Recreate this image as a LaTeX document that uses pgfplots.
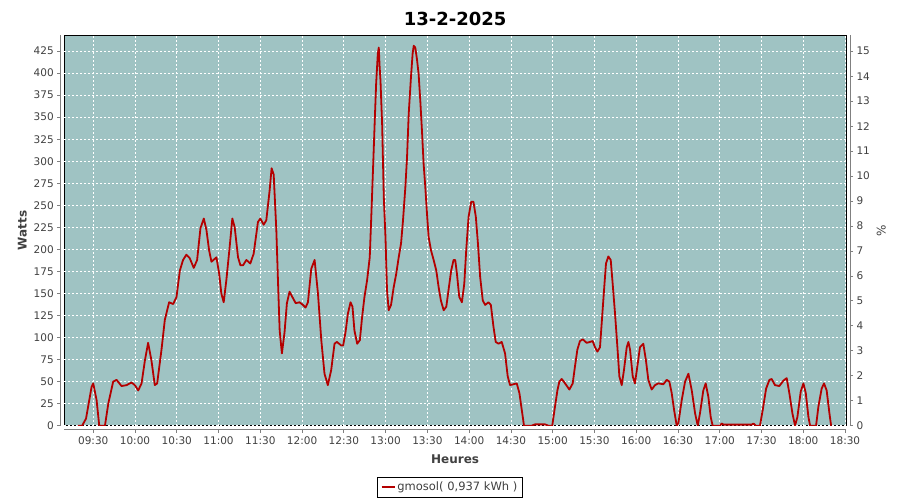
\documentclass[border=0pt]{standalone}
\usepackage{fontspec}
\setmainfont{DejaVu Sans}
\usepackage{pgfplots}
\pgfplotsset{compat=1.18}
\definecolor{bg}{HTML}{9FC3C3}
\definecolor{ser}{HTML}{B40000}
\definecolor{lab}{HTML}{404040}

\pgfplotstableread{
t w
559 0
562 0
564.8 8
568.8 44
570 48
572.4 29
574.3 0
578.4 0
580.8 25
584.3 50
586.7 52
590.3 45
593.9 46
597.5 49
599.9 46
602.3 40
604.7 48
607.1 74
609.4 94
611.8 74
614.2 46
615.9 48
619.0 86
621.4 120
624.5 140
627.4 138
629.8 146
632.2 176
634.5 188
636.9 194
639.3 190
642.2 179
644.6 188
647.0 224
649.4 235
651.3 222
653.2 199
654.9 186
658.5 191
660.4 173
662.0 150
663.7 140
665.6 165
668.0 203
669.9 235
671.6 225
674.0 191
675.7 182
677.6 182
680.0 188
682.8 184
685.2 195
688.3 231
690.0 235
692.4 228
694.3 233
696.7 267
698.1 292
699.6 285
701.5 222
702.9 154
703.9 108
705.5 82
707.4 106
709.1 139
711.0 152
713.0 146
715.4 139
718.2 140
720.6 137
722.5 134
724.2 140
726.6 178
729.0 188
731.4 150
733.8 97
736.1 59
738.5 46
740.9 63
743.3 93
745.0 95
748.1 91
749.5 91
751.2 106
752.9 127
754.8 140
756.2 135
757.6 108
759.6 93
761.5 97
763.1 123
764.8 146
766.7 165
768.6 191
769.8 241
771.0 293
772.2 346
773.2 388
774.4 422
775.1 429
775.6 410
776.3 392
777.5 342
778.7 259
779.9 214
781.0 154
782.2 131
783.9 137
785.8 157
787.7 173
789.4 191
791.1 207
792.5 233
794.2 271
795.4 305
796.6 354
798.2 395
799.4 422
800.2 431
801.3 429
802.5 416
803.7 399
804.9 369
806.1 335
807.3 297
808.5 271
809.7 241
810.9 214
812.6 199
814.5 188
816.4 176
818.1 157
819.7 142
821.7 131
823.6 135
825.2 154
827.1 176
828.8 188
830.0 188
831.2 173
832.9 146
834.8 140
836.5 161
837.9 199
839.6 237
841.5 254
843.1 254
844.8 237
846.3 207
847.9 169
849.8 142
851.5 137
853.9 140
855.6 137
857.5 112
859.1 95
861.1 93
863.4 95
865.8 82
867.7 56
869.4 46
871.8 47
874.2 48
876.1 37
877.8 18
879.4 0
884.9 0
887.3 1.5
894.5 1.5
896.9 0
899.7 0
901.7 22
903.4 40
904.8 50
906.5 53
908.9 48
912.0 41
914.4 48
916.0 67
917.7 86
919.6 96
921.6 98
924.4 94
926.8 95
928.7 96
930.4 89
932.1 84
934.0 89
935.2 116
936.9 154
938.3 184
940.0 192
941.7 188
943.1 161
944.8 127
946.5 89
947.9 56
949.6 46
951.2 63
953.2 89
954.4 95
955.6 86
957.5 56
959.1 48
960.8 67
962.7 89
965.1 93
967.0 74
968.7 52
971.1 41
973.5 46
975.9 48
979.5 47
981.9 52
983.8 50
985.5 37
987.2 18
989.1 0
990.3 3
992.7 29
995.1 50
997.5 59
999.9 40
1002.3 14
1004.2 0
1005.8 14
1008.2 40
1009.9 48
1011.8 33
1013.5 10
1014.9 0
1020.2 0
1021.4 2.5
1022.8 1.2
1043 1.2
1044.2 2.5
1046 0
1048.9 0
1050.9 18
1053.3 42
1055.7 52
1057.3 53
1059.7 46
1062.8 45
1065.7 51
1068.1 54
1070.0 37
1072.2 14
1074.1 0
1075.8 10
1078.2 39
1080.1 48
1081.8 37
1083.7 10
1084.9 0
1089.2 0
1090.9 22
1093.2 42
1094.9 48
1096.8 40
1098.8 14
1100 0
}\datatable

\begin{document}
\begin{tikzpicture}
\path[use as bounding box] (-64.3pt,-74.3pt) rectangle (835.7pt,425.7pt);
\begin{axis}[
  at={(0pt,0pt)}, anchor=south west,
  width=781.7pt, height=390.7pt, scale only axis,
  xmin=549.2, xmax=1110.7, ymin=0, ymax=443.2,
  axis background/.style={fill=bg, draw=black, line width=0.9pt},
  axis x line*=bottom, axis y line*=left,
  axis x line shift=4pt, axis y line shift=4pt,
  axis line style={draw=gray, line width=0.9pt},
  xtick={570,600,...,1110},
  xticklabels={09:30,10:00,10:30,11:00,11:30,12:00,12:30,13:00,13:30,14:00,14:30,15:00,15:30,16:00,16:30,17:00,17:30,18:00,18:30},
  ytick={0,25,...,425},
  /pgf/number format/assume math mode=true,
  grid=major,
  major grid style={draw=white, dash pattern=on 2pt off 2pt, line width=0.8pt},
  tick align=outside, major tick length=3pt,
  tick style={draw=gray, line width=0.8pt},
  ticklabel style={font=\fontsize{10.5}{12}\selectfont, text=lab},
  xlabel={Heures}, ylabel={Watts},
  label style={font=\bfseries\fontsize{12}{14}\selectfont, text=lab},
  xlabel style={yshift=-4pt},
  title={13-2-2025},
  title style={font=\bfseries\fontsize{18}{20}\selectfont, yshift=0pt},
  legend style={at={(0.4934,-0.131)}, anchor=north, draw=black, line width=0.6pt,
    font=\fontsize{11.5}{13}\selectfont, inner xsep=3pt, inner ysep=3pt, text=lab},
  legend cell align=left,
  legend image code/.code={\draw[#1, line width=1.8pt] (0pt,0pt) -- (13pt,0pt);},
]
\addplot[ser, line width=1.8pt, line join=round] table[x=t, y=w] {\datatable};
\addlegendentry{gmosol( 0,937 kWh )}
\end{axis}
\begin{axis}[
  at={(0pt,0pt)}, anchor=south west,
  width=781.7pt, height=390.7pt, scale only axis,
  xmin=549.2, xmax=1110.7, ymin=0, ymax=15.65,
  axis y line*=right, axis y line shift=4pt, hide x axis,
  axis line style={draw=gray, line width=0.9pt},
  ytick={0,1,...,15},
  /pgf/number format/assume math mode=true,
  tick align=outside, major tick length=3pt,
  tick style={draw=gray, line width=0.8pt},
  ticklabel style={font=\fontsize{10.5}{12}\selectfont, text=lab},
  ylabel={\%},
  label style={font=\fontsize{12}{14}\selectfont, text=lab},
]
\end{axis}
\end{tikzpicture}
\end{document}
